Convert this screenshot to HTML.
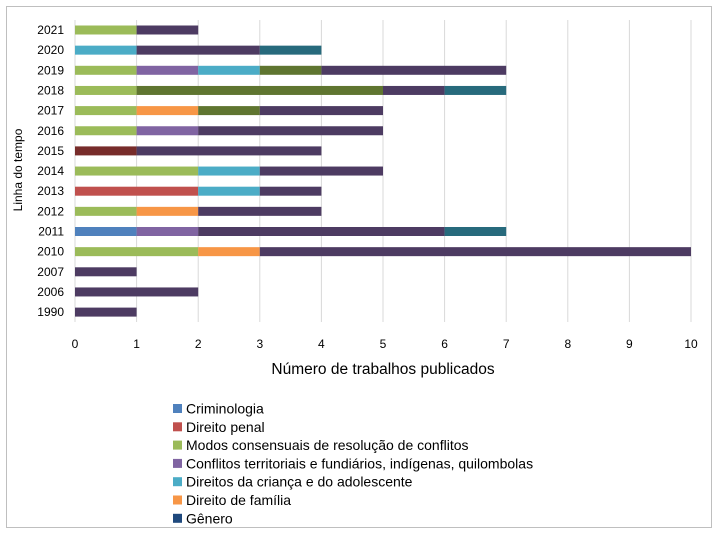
<!DOCTYPE html>
<html><head><meta charset="utf-8"><style>
body{margin:0;background:#fff;font-family:"Liberation Sans",sans-serif}
svg text{font-family:"Liberation Sans",sans-serif;fill:#000}
</style></head><body>
<svg id="c" width="718" height="535">
<rect x="6.5" y="6.5" width="705" height="521" fill="#fff" stroke="#bfbfbf"/>
<g id="grid"></g><g id="bars"></g><g id="ylabels"></g><g id="xlabels"></g>
<text x="383" y="374" font-size="15.5" text-anchor="middle">Número de trabalhos publicados</text>
<text transform="translate(22,170) rotate(-90)" font-size="12" text-anchor="middle">Linha do tempo</text>
<g id="legend"></g>
</svg>
<script>
const years=["2021","2020","2019","2018","2017","2016","2015","2014","2013","2012","2011","2010","2007","2006","1990"];
const seriesNames=["Criminologia","Direito penal","Modos consensuais de resolução de conflitos","Conflitos territoriais e fundiários, indígenas, quilombolas","Direitos da criança e do adolescente","Direito de família","Gênero","Outro A","Outro B","Outro C","Outro D"];
const colors=["#4F81BD","#C0504D","#9BBB59","#8064A2","#4BACC6","#F79646","#1F497D","#772C2A","#5F7530","#4D3B62","#276A7C"];
const crim=[0,0,0,0,0,0,0,0,0,0,1,0,0,0,0];
const penal=[0,0,0,0,0,0,0,0,2,0,0,0,0,0,0];
const modos=[1,0,1,1,1,1,0,2,0,1,0,2,0,0,0];
const confl=[0,0,1,0,0,1,0,0,0,0,1,0,0,0,0];
const crianca=[0,1,1,0,0,0,0,1,1,0,0,0,0,0,0];
const familia=[0,0,0,0,1,0,0,0,0,1,0,1,0,0,0];
const genero=[0,0,0,0,0,0,0,0,0,0,0,0,0,0,0];
const outroA=[0,0,0,0,0,0,1,0,0,0,0,0,0,0,0];
const outroB=[0,0,1,4,1,0,0,0,0,0,0,0,0,0,0];
const outroC=[1,2,3,1,2,3,3,2,1,2,4,7,1,2,1];
const outroD=[0,1,0,1,0,0,0,0,0,0,1,0,0,0,0];
const xTicks=[0,1,2,3,4,5,6,7,8,9,10];
const series=[crim,penal,modos,confl,crianca,familia,genero,outroA,outroB,outroC,outroD];
const NS="http://www.w3.org/2000/svg";
const x=v=>75+v*61.6;
const y=i=>30+i*20.15;
function mk(t,a,p){const e=document.createElementNS(NS,t);for(const k in a)e.setAttribute(k,a[k]);p.appendChild(e);return e;}
const g=document.getElementById('grid'),b=document.getElementById('bars'),yl=document.getElementById('ylabels'),xl=document.getElementById('xlabels'),lg=document.getElementById('legend');
xTicks.forEach(t=>{
 const l=mk('line',{x1:x(t),x2:x(t),y1:20,y2:322,stroke:'#d9d9d9'},g);
 
 
 const tx=mk('text',{x:x(t),y:348,'font-size':12,'text-anchor':'middle'},xl);tx.textContent=t;
 
 
});
years.forEach((yr,i)=>{
 const tx=mk('text',{x:64,y:y(i)+4,'font-size':12,'text-anchor':'end'},yl);tx.textContent=yr;
 
 
 let acc=0;
 series.forEach((s,k)=>{
  if(s[i]>0){
   const r=mk('rect',{x:x(acc),y:y(i)-4.5,width:x(acc+s[i])-x(acc),height:9,fill:colors[k]},b);
   
   
  }
  acc+=s[i];
 });
});
for(let k=0;k<7;k++){
 const ly=409+k*18.3;
 const r=mk('rect',{x:173,y:ly-5,width:9,height:9,fill:colors[k]},lg);
 
 
 const t=mk('text',{x:186,y:ly+4.5,'font-size':14},lg);t.textContent=seriesNames[k];
 
 
}
</script>
</body></html>
